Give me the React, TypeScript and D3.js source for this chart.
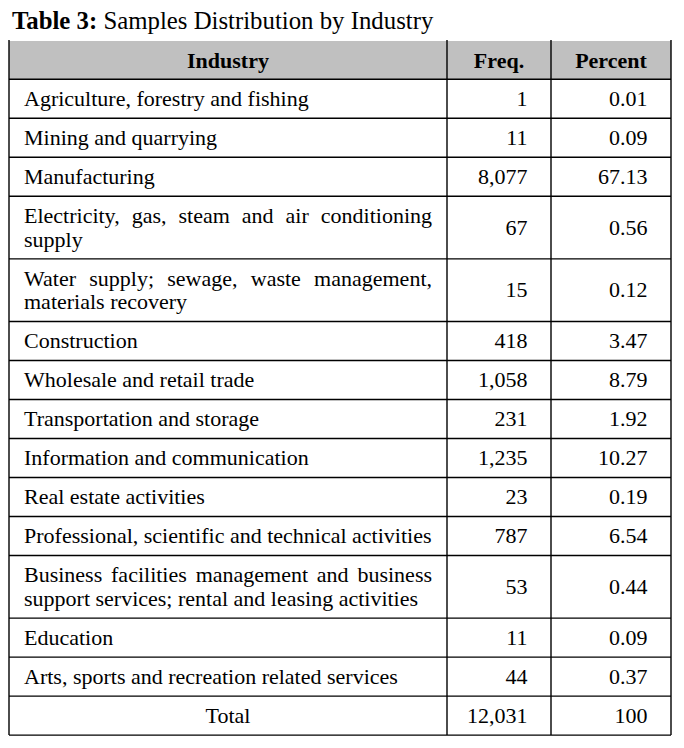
import React from "react";
import * as d3 from "d3";

const titleBold = "Table 3:";
const titleRest = " Samples Distribution by Industry";
const headers = ["Industry", "Freq.", "Percent"];
const industries = [
  "Agriculture, forestry and fishing",
  "Mining and quarrying",
  "Manufacturing",
  "Electricity, gas, steam and air conditioning supply",
  "Water supply; sewage, waste management, materials recovery",
  "Construction",
  "Wholesale and retail trade",
  "Transportation and storage",
  "Information and communication",
  "Real estate activities",
  "Professional, scientific and technical activities",
  "Business facilities management and business support services; rental and leasing activities",
  "Education",
  "Arts, sports and recreation related services",
];
const freq = [1, 11, 8077, 67, 15, 418, 1058, 231, 1235, 23, 787, 53, 11, 44];
const percent = [0.01, 0.09, 67.13, 0.56, 0.12, 3.47, 8.79, 1.92, 10.27, 0.19, 6.54, 0.44, 0.09, 0.37];
const totalLabel = "Total";
const totalFreq = 12031;
const totalPercent = 100;

const W = 684;
const H = 748;
const FONT = "'Liberation Serif', 'Times New Roman', serif";
const FS = 22;
const TITLE_FS = 24.8;
const colEdges = [9, 447, 551, 671];
const headerTop = 41;
const headerH = 38.3;
const rowH = 39;
const lineH = 23.6;
const padL = 15;
const padR = 23.5;

let ctx: CanvasRenderingContext2D | null = null;
function measure(text: string, size = FS, weight = "normal") {
  if (!ctx) ctx = document.createElement("canvas").getContext("2d");
  if (!ctx) return text.length * size * 0.45;
  ctx.font = `${weight} ${size}px ${FONT}`;
  return ctx.measureText(text).width;
}

type Line = { words: string[]; justify: boolean };
function wrap(text: string, maxW: number): Line[] {
  const words = text.split(" ");
  const lines: string[][] = [];
  let cur: string[] = [];
  words.forEach((w) => {
    const test = [...cur, w].join(" ");
    if (cur.length && measure(test) > maxW) {
      lines.push(cur);
      cur = [w];
    } else cur.push(w);
  });
  if (cur.length) lines.push(cur);
  return lines.map((ws, i) => ({ words: ws, justify: i < lines.length - 1 }));
}

export default function App() {
  const fmtFreq = d3.format(",");
  const fmtPct = d3.format(".2f");
  const textW = colEdges[1] - colEdges[0] - 2 * padL;
  const x0 = colEdges[0] + padL;

  const rows = industries.map((name, i) => {
    const lines = wrap(name, textW + 4);
    return { name, lines, f: fmtFreq(freq[i]), p: fmtPct(percent[i]), h: rowH + (lines.length - 1) * lineH };
  });

  let y = headerTop + headerH;
  const laid = rows.map((r) => {
    const top = y;
    y += r.h;
    return { ...r, top };
  });
  const totalTop = y;
  const bottom = totalTop + rowH;
  const baseOff = 7.2;

  const renderLine = (ln: Line, yy: number, key: string) => {
    if (!ln.justify || ln.words.length < 2) {
      return (
        <text key={key} x={x0} y={yy}>
          {ln.words.join(" ")}
        </text>
      );
    }
    const widths = ln.words.map((w) => measure(w));
    const sum = d3.sum(widths);
    const gap = (textW - sum) / (ln.words.length - 1);
    let cx = x0;
    return (
      <g key={key}>
        {ln.words.map((w, k) => {
          const xx = cx;
          cx += widths[k] + gap;
          return (
            <text key={k} x={xx} y={yy}>
              {w}
            </text>
          );
        })}
      </g>
    );
  };

  const hLines = [headerTop + headerH, ...laid.map((r) => r.top + r.h), bottom];

  return (
    <svg
      width={W}
      height={H}
      style={{ position: "absolute", left: 0, top: 0, display: "block", background: "#fff" }}
      fontFamily={FONT}
      fontSize={FS}
      fill="#000"
    >
      <text x={12} y={29} fontSize={TITLE_FS}>
        <tspan fontWeight="bold">{titleBold}</tspan>
        <tspan>{titleRest}</tspan>
      </text>
      <rect x={colEdges[0]} y={headerTop} width={colEdges[3] - colEdges[0]} height={headerH} fill="#c0c0c0" />
      {headers.map((h, i) => (
        <text
          key={h}
          x={(colEdges[i] + colEdges[i + 1]) / 2}
          y={headerTop + headerH / 2 + 8}
          textAnchor="middle"
          fontWeight="bold"
        >
          {h}
        </text>
      ))}
      {laid.map((r, i) => {
        const cy = r.top + r.h / 2;
        const firstBase = cy - ((r.lines.length - 1) * lineH) / 2 + baseOff;
        return (
          <g key={i}>
            {r.lines.map((ln, k) => renderLine(ln, firstBase + k * lineH, `l${k}`))}
            <text x={colEdges[2] - padR} y={cy + baseOff} textAnchor="end">
              {r.f}
            </text>
            <text x={colEdges[3] - padR} y={cy + baseOff} textAnchor="end">
              {r.p}
            </text>
          </g>
        );
      })}
      <text x={(colEdges[0] + colEdges[1]) / 2} y={totalTop + rowH / 2 + baseOff} textAnchor="middle">
        {totalLabel}
      </text>
      <text x={colEdges[2] - padR} y={totalTop + rowH / 2 + baseOff} textAnchor="end">
        {fmtFreq(totalFreq)}
      </text>
      <text x={colEdges[3] - padR} y={totalTop + rowH / 2 + baseOff} textAnchor="end">
        {String(totalPercent)}
      </text>
      <g stroke="#000" strokeWidth={1.4}>
        {hLines.map((yy, i) => (
          <line key={i} x1={colEdges[0]} x2={colEdges[3]} y1={yy} y2={yy} />
        ))}
        {colEdges.map((xx, i) => (
          <line key={`v${i}`} x1={xx} x2={xx} y1={headerTop - 1} y2={bottom} />
        ))}
      </g>
    </svg>
  );
}
